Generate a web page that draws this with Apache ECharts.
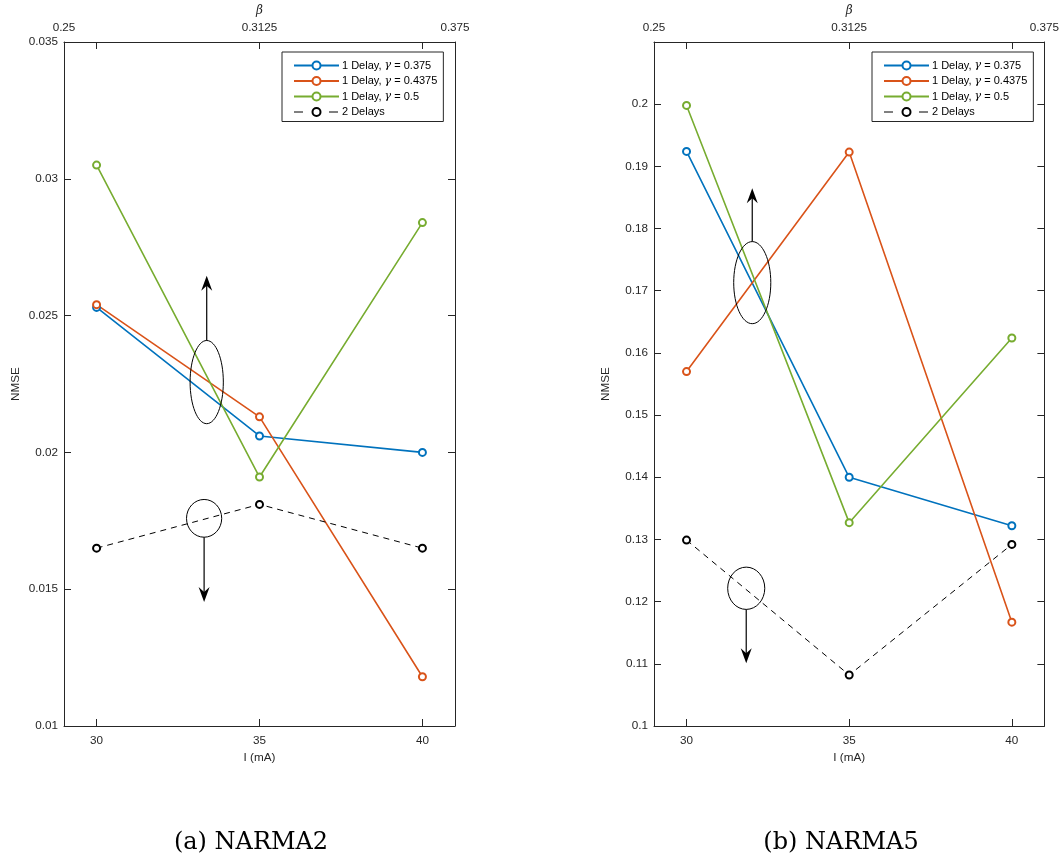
<!DOCTYPE html>
<html>
<head>
<meta charset="utf-8">
<script src="https://cdn.jsdelivr.net/npm/echarts@6/dist/echarts.min.js"></script>
<style>
  html, body { margin: 0; padding: 0; background: #ffffff; }
  #chart { width: 1062px; height: 861px; }
</style>
</head>
<body>
<div id="chart"></div>
<script>
// Bias current sweep (bottom axis) and feedback strength beta (top axis)
const currents = [30, 35, 40];
const currentTicks = [30, 35, 40];
const betaTicks = [0.25, 0.3125, 0.375];

const seriesNames = ['1 Delay, γ = 0.375', '1 Delay, γ = 0.4375', '1 Delay, γ = 0.5', '2 Delays'];
const seriesColors = ['#0072BD', '#D95319', '#77AC30', '#000000'];

// NARMA2 test error
const narma2Gamma0375 = [0.0253, 0.0206, 0.0200];
const narma2Gamma04375 = [0.0254, 0.0213, 0.0118];
const narma2Gamma05 = [0.0305, 0.0191, 0.0284];
const narma2TwoDelays = [0.0165, 0.0181, 0.0165];

// NARMA5 test error
const narma5Gamma0375 = [0.1924, 0.1400, 0.1322];
const narma5Gamma04375 = [0.1570, 0.1923, 0.1167];
const narma5Gamma05 = [0.1998, 0.1327, 0.1624];
const narma5TwoDelays = [0.1299, 0.1082, 0.1292];

const panelCaptions = ['(a) NARMA2', '(b) NARMA5'];

const AXIS_COLOR = '#262626';
const SANS = '"Liberation Sans", Arial, Helvetica, sans-serif';
const SERIF = '"DejaVu Serif", "Liberation Serif", serif';

const chart = echarts.init(document.getElementById('chart'), null, { renderer: 'canvas' });

const grids = [
  { left: 64, top: 41, width: 391, height: 685 },
  { left: 654, top: 41, width: 391, height: 685 }
];

const yRanges = [
  { min: 0.01, max: 0.035, interval: 0.005, showMax: true },
  { min: 0.1, max: 0.21, interval: 0.01, showMax: false }
];

function bottomAxis(gridIndex) {
  return {
    type: 'value', gridIndex, position: 'bottom', min: 29, max: 41,
    name: 'I (mA)', nameLocation: 'middle', nameGap: 26,
    nameTextStyle: { color: AXIS_COLOR, fontFamily: SANS, fontSize: 11.7 },
    axisLine: { show: true, onZero: false, lineStyle: { color: AXIS_COLOR, width: 1 } },
    axisTick: { show: true, inside: true, length: 7, customValues: currentTicks, lineStyle: { color: AXIS_COLOR } },
    axisLabel: { customValues: currentTicks, margin: 9, color: AXIS_COLOR, fontFamily: SANS, fontSize: 11.7 },
    splitLine: { show: false }
  };
}

function topMirrorAxis(gridIndex) {
  return {
    type: 'value', gridIndex, position: 'top', min: 29, max: 41,
    axisLine: { show: true, onZero: false, lineStyle: { color: AXIS_COLOR, width: 1 } },
    axisTick: { show: true, inside: true, length: 7, customValues: currentTicks, lineStyle: { color: AXIS_COLOR } },
    axisLabel: { show: false },
    splitLine: { show: false }
  };
}

function betaAxis(gridIndex) {
  return {
    type: 'value', gridIndex, position: 'top',
    min: betaTicks[0], max: betaTicks[betaTicks.length - 1], interval: 0.0625,
    name: 'β', nameLocation: 'middle', nameGap: 25,
    nameTextStyle: { color: AXIS_COLOR, fontFamily: SERIF, fontStyle: 'italic', fontSize: 12 },
    axisLine: { show: false },
    axisTick: { show: false },
    axisLabel: {
      margin: 8, color: AXIS_COLOR, fontFamily: SANS, fontSize: 11.7,
      showMinLabel: true, showMaxLabel: true,
      formatter: v => String(Number(v.toFixed(4)))
    },
    splitLine: { show: false }
  };
}

function leftAxis(gridIndex) {
  const r = yRanges[gridIndex];
  return {
    type: 'value', gridIndex, position: 'left',
    min: r.min, max: r.max, interval: r.interval,
    name: 'NMSE', nameLocation: 'middle', nameGap: 42,
    nameTextStyle: { color: AXIS_COLOR, fontFamily: SANS, fontSize: 11.7 },
    axisLine: { show: true, onZero: false, lineStyle: { color: AXIS_COLOR, width: 1 } },
    axisTick: { show: true, inside: true, length: 7, lineStyle: { color: AXIS_COLOR } },
    axisLabel: {
      margin: 6, color: AXIS_COLOR, fontFamily: SANS, fontSize: 11.7,
      showMinLabel: true, showMaxLabel: r.showMax,
      formatter: v => String(Number(v.toFixed(4)))
    },
    splitLine: { show: false }
  };
}

function rightMirrorAxis(gridIndex) {
  const r = yRanges[gridIndex];
  return {
    type: 'value', gridIndex, position: 'right',
    min: r.min, max: r.max, interval: r.interval,
    axisLine: { show: true, onZero: false, lineStyle: { color: AXIS_COLOR, width: 1 } },
    axisTick: { show: true, inside: true, length: 7, lineStyle: { color: AXIS_COLOR } },
    axisLabel: { show: false },
    splitLine: { show: false }
  };
}

// x axes: 0 bottom / 1 top mirror / 2 beta for panel a; 3, 4, 5 for panel b
const xAxes = [
  bottomAxis(0), topMirrorAxis(0), betaAxis(0),
  bottomAxis(1), topMirrorAxis(1), betaAxis(1)
];
// y axes: 0 left / 1 right mirror for panel a; 2, 3 for panel b
const yAxes = [leftAxis(0), rightMirrorAxis(0), leftAxis(1), rightMirrorAxis(1)];

const panelData = [
  [narma2Gamma0375, narma2Gamma04375, narma2Gamma05, narma2TwoDelays],
  [narma5Gamma0375, narma5Gamma04375, narma5Gamma05, narma5TwoDelays]
];

const series = [];
panelData.forEach((sets, p) => {
  sets.forEach((values, k) => {
    const dashed = k === 3;
    series.push({
      type: 'line',
      name: seriesNames[k],
      xAxisIndex: p * 3,
      yAxisIndex: p * 2,
      data: currents.map((c, i) => [c, values[i]]),
      symbol: 'emptyCircle',
      symbolSize: 7,
      showSymbol: true,
      animation: false,
      color: seriesColors[k],
      itemStyle: { color: seriesColors[k], borderWidth: dashed ? 0.9 : 1.6 },
      lineStyle: { color: seriesColors[k], width: dashed ? 1 : 1.6, type: dashed ? [6, 5] : 'solid' },
      emphasis: { disabled: true },
      z: 3
    });
  });
});

// Legend entries; the dashed entry gets a sparser dash so the sample reads "— o —"
const legendData = seriesNames.map((name, k) => (
  k === 3
    ? { name, lineStyle: { type: [9, 26], width: 1 }, itemStyle: { borderWidth: 1 } }
    : { name }
));

function legendAt(left) {
  return {
    left, top: 52,
    orient: 'vertical',
    data: legendData,
    backgroundColor: '#ffffff',
    borderColor: AXIS_COLOR,
    borderWidth: 1,
    padding: [8, 6, 4, 11],
    itemWidth: 45,
    itemHeight: 10,
    itemGap: 4.5,
    selectedMode: false,
    formatter: name => name.replace('γ', '{g|γ}'),
    textStyle: {
      color: '#000000', fontFamily: SANS, fontSize: 11, padding: [0, 0, 0, -2],
      rich: { g: { fontFamily: SERIF, fontStyle: 'italic', fontSize: 11, color: '#000000' } }
    }
  };
}

chart.setOption({
  backgroundColor: '#ffffff',
  animation: false,
  grid: grids,
  xAxis: xAxes,
  yAxis: yAxes,
  legend: [legendAt(282), legendAt(872)],
  series
});

// Ellipse + arrow annotations, given in data units of each panel
// (center x, center y, half-width in mA, half-height in NMSE, arrow tip y)
const annotations = [
  { panel: 0, cx: 33.38, cy: 0.02257, hx: 0.51, hy: 0.00152, tip: 0.02646 },
  { panel: 0, cx: 33.30, cy: 0.01759, hx: 0.54, hy: 0.00069, tip: 0.01453 },
  { panel: 1, cx: 32.02, cy: 0.1713, hx: 0.57, hy: 0.0066, tip: 0.1865 },
  { panel: 1, cx: 31.835, cy: 0.12215, hx: 0.57, hy: 0.0034, tip: 0.1101 }
];

const graphic = [];
annotations.forEach(a => {
  const xi = a.panel * 3, yi = a.panel * 2;
  const px = chart.convertToPixel({ xAxisIndex: xi }, a.cx);
  const py = chart.convertToPixel({ yAxisIndex: yi }, a.cy);
  const rx = Math.abs(chart.convertToPixel({ xAxisIndex: xi }, a.cx + a.hx) - px);
  const ry = Math.abs(chart.convertToPixel({ yAxisIndex: yi }, a.cy + a.hy) - py);
  const tipY = chart.convertToPixel({ yAxisIndex: yi }, a.tip);
  const up = tipY < py;
  const startY = up ? py - ry : py + ry;
  const dir = up ? 1 : -1;
  graphic.push({
    type: 'ellipse', silent: true, z: 10,
    shape: { cx: px, cy: py, rx, ry },
    style: { fill: null, stroke: '#000000', lineWidth: 1 }
  });
  graphic.push({
    type: 'line', silent: true, z: 10,
    shape: { x1: px, y1: startY, x2: px, y2: tipY + dir * 8 },
    style: { stroke: '#000000', lineWidth: 1.2 }
  });
  graphic.push({
    type: 'polygon', silent: true, z: 10,
    shape: {
      points: [
        [px, tipY],
        [px + 5.5, tipY + dir * 15],
        [px, tipY + dir * 10],
        [px - 5.5, tipY + dir * 15]
      ]
    },
    style: { fill: '#000000', stroke: null }
  });
});

// Panel captions below each plot
graphic.push({
  type: 'text', silent: true, x: 251, y: 843,
  style: { text: panelCaptions[0], font: '24px ' + SERIF, fill: '#000000', align: 'center', verticalAlign: 'middle' }
});
graphic.push({
  type: 'text', silent: true, x: 841, y: 843,
  style: { text: panelCaptions[1], font: '24px ' + SERIF, fill: '#000000', align: 'center', verticalAlign: 'middle' }
});

chart.setOption({ graphic });
</script>
</body>
</html>
